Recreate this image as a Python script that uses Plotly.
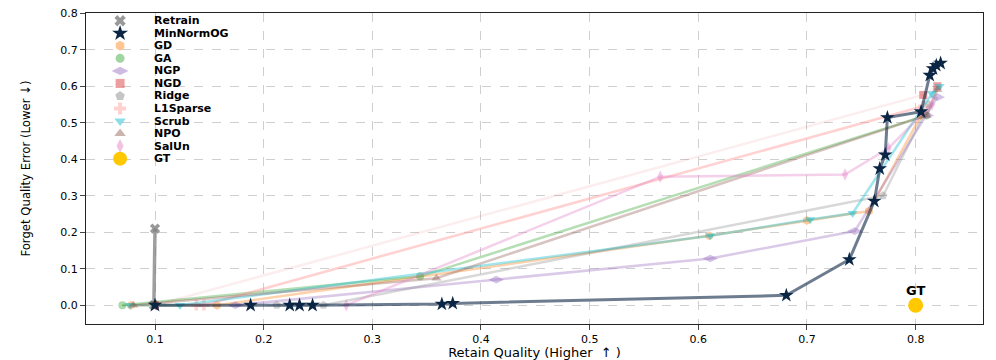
import plotly.graph_objects as go

# Data (Retain Quality, Forget Quality Error)
methods = ["Retrain", "MinNormOG", "GD", "GA", "NGP", "NGD", "Ridge",
           "L1Sparse", "Scrub", "NPO", "SalUn", "GT"]

x_ticks = [0.1, 0.2, 0.3, 0.4, 0.5, 0.6, 0.7, 0.8]
y_ticks = [0.0, 0.1, 0.2, 0.3, 0.4, 0.5, 0.6, 0.7, 0.8]

retrain_x = [0.099, 0.100]
retrain_y = [0.000, 0.210]

minnorm_x = [0.100, 0.188, 0.224, 0.233, 0.245, 0.364, 0.374, 0.681, 0.739,
             0.762, 0.767, 0.772, 0.774, 0.805, 0.813, 0.816, 0.819, 0.823]
minnorm_y = [0.000, 0.000, 0.000, 0.000, 0.000, 0.003, 0.005, 0.027, 0.125,
             0.285, 0.374, 0.412, 0.514, 0.530, 0.630, 0.648, 0.657, 0.663]

gd_x = [0.078, 0.157, 0.610, 0.700, 0.757, 0.805]
gd_y = [0.000, 0.000, 0.190, 0.232, 0.258, 0.520]

ga_x = [0.070, 0.344, 0.810]
ga_y = [0.000, 0.079, 0.520]

ngp_x = [0.174, 0.414, 0.611, 0.744, 0.810, 0.820]
ngp_y = [0.000, 0.070, 0.128, 0.203, 0.520, 0.570]

ngd_x = [0.100, 0.807, 0.820]
ngd_y = [0.000, 0.576, 0.600]

ridge_x = [0.212, 0.255, 0.770, 0.812]
ridge_y = [0.000, 0.000, 0.300, 0.550]

l1_x = [0.138, 0.145, 0.807]
l1_y = [0.000, 0.000, 0.545]

scrub_x = [0.077, 0.123, 0.611, 0.703, 0.742, 0.815, 0.822]
scrub_y = [0.000, 0.000, 0.190, 0.235, 0.252, 0.580, 0.600]

npo_x = [0.080, 0.359, 0.810, 0.820]
npo_y = [0.000, 0.074, 0.520, 0.590]

salun_x = [0.276, 0.565, 0.735, 0.775, 0.815]
salun_y = [0.000, 0.352, 0.358, 0.430, 0.550]

gt_x = [0.800]
gt_y = [0.000]

series = {
    "Retrain": (retrain_x, retrain_y),
    "MinNormOG": (minnorm_x, minnorm_y),
    "GD": (gd_x, gd_y),
    "GA": (ga_x, ga_y),
    "NGP": (ngp_x, ngp_y),
    "NGD": (ngd_x, ngd_y),
    "Ridge": (ridge_x, ridge_y),
    "L1Sparse": (l1_x, l1_y),
    "Scrub": (scrub_x, scrub_y),
    "NPO": (npo_x, npo_y),
    "SalUn": (salun_x, salun_y),
    "GT": (gt_x, gt_y),
}

# name: (rgb, symbol, marker size, line alpha, marker alpha, line width)
styles = {
    "Retrain": ((127, 127, 127), "x", 9, 0.75, 0.8, 3.5),
    "MinNormOG": ((11, 37, 69), "star", 11, 0.6, 1.0, 3),
    "GD": ((255, 127, 14), "hexagon", 9, 0.35, 0.4, 2.5),
    "GA": ((44, 160, 44), "circle", 8, 0.35, 0.4, 2.5),
    "NGP": ((148, 103, 189), "diamond-wide", 11, 0.35, 0.4, 2.5),
    "NGD": ((214, 39, 40), "square", 8, 0.08, 0.45, 2.5),
    "Ridge": ((127, 127, 127), "pentagon", 9, 0.3, 0.35, 2.5),
    "L1Sparse": ((255, 152, 150), "cross", 9, 0.45, 0.4, 2.5),
    "Scrub": ((23, 190, 207), "triangle-down", 9, 0.4, 0.5, 2.5),
    "NPO": ((140, 86, 75), "triangle-up", 9, 0.35, 0.4, 2.5),
    "SalUn": ((227, 119, 194), "diamond-tall", 9, 0.35, 0.4, 2.5),
    "GT": ((255, 200, 0), "circle", 15, 1.0, 1.0, 0),
}


def rgba(c, a):
    return f"rgba({c[0]},{c[1]},{c[2]},{a})"


fig = go.Figure()

draw_order = ["Retrain", "GD", "GA", "NGP", "NGD", "Ridge", "L1Sparse",
              "Scrub", "NPO", "SalUn", "MinNormOG", "GT"]
for name in draw_order:
    xs, ys = series[name]
    c, sym, size, la, ma, lw = styles[name]
    fig.add_trace(go.Scatter(
        x=xs, y=ys, name=name,
        mode="markers" if lw == 0 else "lines+markers",
        line=dict(color=rgba(c, la), width=lw),
        marker=dict(symbol=sym, size=size, color=rgba(c, ma),
                    line=dict(width=0)),
        showlegend=False,
    ))

fig.add_annotation(x=gt_x[0], y=gt_y[0], text="<b>GT</b>", showarrow=False,
                   yshift=15, font=dict(family="DejaVu Sans", size=13, color="black"))

# hand-made compact legend, drawn on an invisible overlay axis
row0, row_step = 0.975, 0.0403
for i, name in enumerate(methods):
    c, sym, size, la, ma, lw = styles[name]
    yy = row0 - i * row_step
    fig.add_trace(go.Scatter(
        x=[0.038], y=[yy], xaxis="x2", yaxis="y2", mode="markers",
        marker=dict(symbol=sym, size=size + 1 if name != "GT" else 14,
                    color=rgba(c, max(ma, 0.45)), line=dict(width=0)),
        showlegend=False, hoverinfo="skip",
    ))
    fig.add_annotation(x=0.074, y=yy, xref="paper", yref="paper", text=f"<b>{name}</b>",
                       showarrow=False, xanchor="left", yanchor="middle",
                       font=dict(family="DejaVu Sans", size=11, color="black"))

axis_common = dict(
    showline=True, linecolor="#222", linewidth=1, mirror=True,
    ticks="outside", ticklen=5, tickcolor="#444",
    showgrid=True, gridcolor="#cfcfcf", griddash="dash", gridwidth=1,
    zeroline=False, automargin=False, ticklabeloverflow="allow",
)

# page body has an 8px margin, so the figure is drawn 8px smaller and shifted
fig.update_layout(
    width=988, height=352,
    margin=dict(l=78, r=13, t=5, b=36),
    plot_bgcolor="white", paper_bgcolor="white",
    xaxis=dict(range=[0.0365, 0.862], tickvals=x_ticks, tickformat=".1f",
               tickfont=dict(family="DejaVu Sans", size=11, color="black"),
               title=dict(text="Retain Quality (Higher  ↑ )", standoff=2,
                          font=dict(family="DejaVu Sans", size=13, color="black")),
               **axis_common),
    yaxis=dict(range=[-0.0515, 0.8005], tickvals=y_ticks, tickformat=".1f",
               tickfont=dict(family="DejaVu Sans", size=11, color="black"),
               title=dict(text="Forget Quality Error (Lower ↓)", standoff=26,
                          font=dict(family="Liberation Sans Narrow, DejaVu Sans Condensed, sans-serif",
                                    size=13, color="black")),
               **axis_common),
    xaxis2=dict(overlaying="x", range=[0, 1], visible=False),
    yaxis2=dict(overlaying="y", range=[0, 1], visible=False),
)

fig.write_html("out.html")
